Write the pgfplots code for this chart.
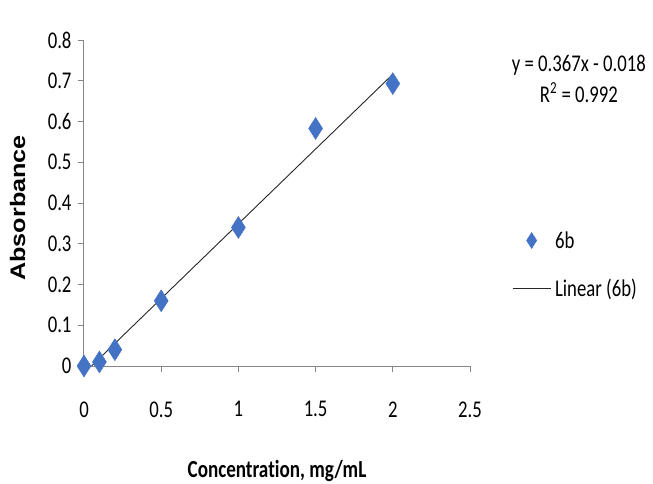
\documentclass[border=0pt]{standalone}
\usepackage{fontspec}
\setmainfont{Carlito}[FakeStretch=0.78, Ligatures=NoCommon]
\newfontfamily\labfont{Liberation Sans}[FakeStretch=1.2]
\usepackage{pgfplots}
\pgfplotsset{compat=1.18}
\definecolor{mblue}{HTML}{4472C4}
\definecolor{axgray}{HTML}{868686}
\newcommand\fs{\fontsize{24}{28}\selectfont}
\begin{document}
\begin{tikzpicture}
\useasboundingbox (0,0) rectangle (653pt,483pt);
\begin{axis}[
  at={(84pt,117pt)}, anchor=south west,
  scale only axis, width=386pt, height=326pt,
  xmin=0, xmax=2.5, ymin=0, ymax=0.8,
  clip=false,
  axis lines=left,
  axis line style={-, draw=axgray, line width=1pt},
  xtick={0,0.5,1,1.5,2,2.5},
  ytick={0,0.1,0.2,0.3,0.4,0.5,0.6,0.7,0.8},
  yticklabels={0,0.1,0.2,0.3,0.4,0.5,0.6,0.7,0.8},
  xticklabels={0,0.5,1,1.5,2,2.5},
  tick align=outside, major tick length=6pt,
  tick style={draw=axgray, line width=1pt},
  tick label style={font=\fs},
  /pgf/number format/assume math mode=true,
  xticklabel style={yshift=-26pt},
  yticklabel style={xshift=-3pt},
  xlabel={\bfseries Concentration, mg/mL},
  xlabel style={font=\fontsize{24.5}{29}\selectfont, at={(axis description cs:0.5,-0.3405)}, anchor=base},
  ylabel={\labfont\bfseries Absorbance},
  ylabel style={font=\fontsize{21}{25}\selectfont, at={(axis description cs:-0.1528,0.485)}, anchor=base},
  legend style={draw=none, fill=none, at={(axis description cs:1.1088,0.3113)}, anchor=west,
    font=\fs, inner sep=0pt, nodes={inner sep=0pt}, row sep=29pt,
    /tikz/every odd column/.append style={column sep=4pt}},
  legend cell align=left,
  legend image code/.code={\draw[mark repeat=2,mark phase=2,#1] plot coordinates {(0pt,0pt) (19pt,0pt) (38pt,0pt)};},
]
\addplot[only marks, mark=diamond*, mark size=11pt,
  mark options={fill=mblue, draw=mblue, line width=0.4pt, xscale=0.85},
  legend image post style={every mark/.append style={scale=0.73}}]
  coordinates {(0,0) (0.1,0.01) (0.2,0.04) (0.5,0.16) (1,0.34) (1.5,0.583) (2,0.693)};
\addlegendentry{6b}
\addplot[black!85, line width=0.9pt] coordinates {(0.049,0) (2,0.716)};
\addlegendentry{Linear (6b)}
\node[font=\fs, anchor=base] at (axis description cs:1.282,0.902) {y = 0.367x - 0.018};
\node[font=\fs, anchor=base] at (axis description cs:1.282,0.807) {R\textsuperscript{2} = 0.992};
\end{axis}
\end{tikzpicture}
\end{document}
